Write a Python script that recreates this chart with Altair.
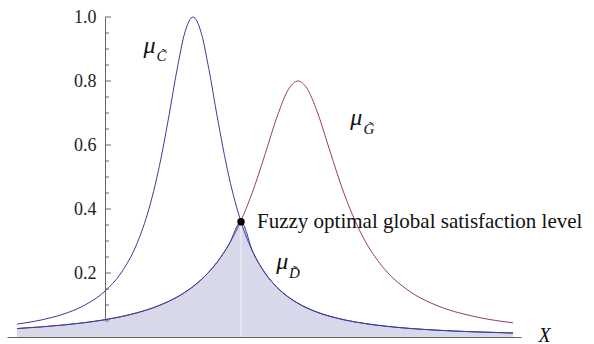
import altair as alt
import numpy as np
import pandas as pd

# Sample positions along the X axis
x_vals = [-2.2, -1.6, -1.0, -0.5, 0.0, 0.4, 0.8, 1.1, 1.4, 1.6, 1.8, 2.0, 2.2,
          2.4, 2.6, 2.8, 3.1, 3.4, 3.7, 4.0, 4.3, 4.6, 4.825, 5.05, 5.3, 5.6,
          6.0, 6.5, 7.0, 7.6, 8.3, 9.2, 10.2]

# Membership of the fuzzy constraint C
mu_c = [0.0402, 0.0531, 0.0733, 0.100, 0.1434, 0.200, 0.2924, 0.401, 0.5586,
        0.6923, 0.835, 0.953, 1.000, 0.953, 0.835, 0.6923, 0.500, 0.360,
        0.2647, 0.200, 0.1552, 0.1233, 0.1052, 0.0907, 0.0777, 0.0655, 0.0531,
        0.0420, 0.0340, 0.0270, 0.0213, 0.0163, 0.0125]

# Membership of the fuzzy goal G
mu_g = [0.0265, 0.0315, 0.0380, 0.0450, 0.0541, 0.0636, 0.0756, 0.0869, 0.1007,
        0.1118, 0.1247, 0.1398, 0.1576, 0.1786, 0.2036, 0.2335, 0.2898, 0.3634,
        0.4574, 0.5703, 0.6878, 0.7767, 0.800, 0.7767, 0.7058, 0.5902, 0.4403,
        0.3007, 0.2106, 0.1440, 0.0982, 0.0649, 0.0442]

# Optimal decision point (maximum of the decision membership D = min(C, G))
opt_x = [3.4]
opt_mu = [0.36]

# Y axis tick values
major_ticks = [0.2, 0.4, 0.6, 0.8, 1.0]
minor_ticks = [0.05, 0.1, 0.15, 0.25, 0.3, 0.35, 0.45, 0.5, 0.55, 0.65, 0.7,
               0.75, 0.85, 0.9, 0.95]

# Curve labels: mu with a tilded subscript
lab_sub = ["C\u0303", "G\u0303", "D\u0303"]
lab_mu_x = [0.96, 6.13, 4.28]
lab_mu_y = [0.887, 0.662, 0.212]
lab_sub_x = [1.29, 6.46, 4.6]
lab_sub_y = [0.862, 0.634, 0.184]

point_text = "Fuzzy optimal global satisfaction level"

FONT = "'Liberation Serif', 'Times New Roman', Times, serif"
BLUE = "#3d3d99"
RED = "#993d71"
FILL = "#d8d8eb"
AXIS = "#666666"

df = pd.DataFrame({"x": x_vals, "c": mu_c, "g": mu_g})
df["d"] = np.minimum(df["c"], df["g"])
opt = pd.DataFrame({"x": opt_x, "mu": opt_mu})
majors = pd.DataFrame({"v": major_ticks})
minors = pd.DataFrame({"v": minor_ticks})
labels = pd.DataFrame({"sub": lab_sub, "mx": lab_mu_x, "my": lab_mu_y,
                       "sx": lab_sub_x, "sy": lab_sub_y, "mu": ["\u03bc"] * 3})

x_scale = alt.Scale(domain=[-2.45, 10.4], nice=False, zero=False)
y_scale = alt.Scale(domain=[0, 1], nice=False, zero=False)

x_axis = alt.Axis(labels=False, ticks=False, grid=False, domainColor=AXIS,
                  domainWidth=1, title="X", titleFont=FONT, titleFontSize=20,
                  titleFontStyle="italic", titleFontWeight="normal",
                  titleColor="#111111", titleX=537, titleY=-2,
                  titleAlign="center", titleBaseline="middle")
y_axis = alt.Axis(values=major_ticks, format=".1f", ticks=False, tickSize=0,
                  grid=False, offset=-98, domainColor=AXIS, domainWidth=1,
                  labelFont=FONT, labelFontSize=18, labelColor="#222222",
                  labelPadding=9, title=None)


def X(field=None, datum=None):
    if datum is not None:
        return alt.X(datum=datum, type="quantitative", scale=x_scale, axis=x_axis)
    return alt.X(field, type="quantitative", scale=x_scale, axis=x_axis)


def Y(field=None, datum=None):
    if datum is not None:
        return alt.Y(datum=datum, type="quantitative", scale=y_scale, axis=y_axis)
    return alt.Y(field, type="quantitative", scale=y_scale, axis=y_axis)


base = alt.Chart(df)

area = base.mark_area(color=FILL, interpolate="monotone").encode(x=X("x"), y=Y("d"))

split = alt.Chart(opt).mark_rule(color="white", opacity=0.7, strokeWidth=1).encode(
    x=X("x"), y=Y("mu"), y2=alt.Y2(datum=0))

line_g = base.mark_line(color=RED, strokeWidth=1, interpolate="monotone").encode(
    x=X("x"), y=Y("g"))
line_c = base.mark_line(color=BLUE, strokeWidth=1, interpolate="monotone").encode(
    x=X("x"), y=Y("c"))
line_d = base.mark_line(color=BLUE, strokeWidth=1, interpolate="monotone").encode(
    x=X("x"), y=Y("d"))

tick_major = alt.Chart(majors).mark_rule(color=AXIS, strokeWidth=1).encode(
    x=X(datum=0), x2=alt.X2(datum=0.15), y=Y("v"))
tick_minor = alt.Chart(minors).mark_rule(color=AXIS, strokeWidth=1).encode(
    x=X(datum=0), x2=alt.X2(datum=0.1), y=Y("v"))

dot = alt.Chart(opt).mark_point(filled=True, color="black", size=55, opacity=1).encode(
    x=X("x"), y=Y("mu"))

dot_label = alt.Chart(opt).mark_text(
    text=point_text, align="left", baseline="middle", dx=16, dy=0,
    font=FONT, fontSize=21, color="#111111").encode(x=X("x"), y=Y("mu"))

mu_text = alt.Chart(labels).mark_text(
    align="left", baseline="alphabetic", font=FONT, fontSize=24,
    fontStyle="italic", color="#111111").encode(x=X("mx"), y=Y("my"), text="mu:N")
sub_text = alt.Chart(labels).mark_text(
    align="left", baseline="alphabetic", font=FONT, fontSize=15,
    fontStyle="italic", color="#111111").encode(x=X("sx"), y=Y("sy"), text="sub:N")

chart = alt.layer(
    area, split, line_g, line_c, line_d, tick_major, tick_minor, dot,
    dot_label, mu_text, sub_text
).properties(
    width=514, height=320,
    padding={"left": 7, "top": 17, "right": 73, "bottom": 7},
    autosize=alt.AutoSizeParams(type="none"),
    background="white",
).configure_view(stroke=None)

chart.save("out.html", embed_options={"renderer": "svg", "actions": False})
